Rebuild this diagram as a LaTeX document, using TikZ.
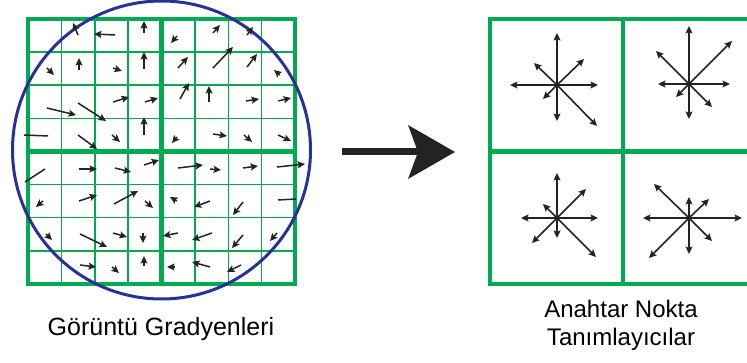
\documentclass[tikz,border=0pt]{standalone}
\usepackage{fontspec}
\setmainfont{Liberation Sans}
\usetikzlibrary{arrows.meta}
\definecolor{gr}{RGB}{0,170,80}
\definecolor{bl}{RGB}{40,50,150}
\definecolor{ak}{RGB}{35,35,35}
\tikzset{
  thickg/.style={gr,line width=4.5pt},
  thing/.style={gr,line width=1.5pt},
  garr/.style={ak,line width=1.5pt,-{Stealth[length=7.5pt,width=7pt,inset=1.5pt]}},
  gline/.style={ak,line width=1.5pt},
  tarr/.style={ak,line width=1.6pt,-{Stealth[length=7.5pt,width=7pt,inset=1.5pt]}},
  lbl/.style={font=\fontsize{25}{30}\selectfont,text=black,align=center},
}
\begin{document}
\begin{tikzpicture}[x=1pt,y=-1pt]
\useasboundingbox (0,0) rectangle (747,363);
\clip (0,0) rectangle (747,363);
\fill[white] (0,0) rectangle (747,363);
% ---------- left grid ----------
\foreach \i in {1,2,3,5,6,7}{
  \draw[thing] ({28+33.375*\i},19) -- ({28+33.375*\i},284);
  \draw[thing] (28,{19+33.125*\i}) -- (295,{19+33.125*\i});
}
\draw[thickg] (28,19) rectangle (295,284);
\draw[thickg] (161.5,19) -- (161.5,284);
\draw[thickg] (28,151.5) -- (295,151.5);
\draw[bl,line width=3pt] (161.5,150) circle[radius=149];
% ---------- gradient arrows ----------
% row 1
\draw[garr] (78,35) -- (73,23);
\draw[garr] (115,35) -- (94,34);
\draw[garr] (144,33) -- (144,21);
\draw[garr] (177,36) -- (171,43);
\draw[garr] (213,33) -- (220,25);
\draw[garr] (247,35) -- (253,27);
% row 2
\draw[garr] (47,68) -- (54,75);
\draw[garr] (79,70) -- (79,58);
\draw[garr] (113,68) -- (122,71);
\draw[garr] (144,69) -- (144,52);
\draw[garr] (178,68) -- (188,57);
\draw[garr] (213,68) -- (233,47);
\draw[garr] (247,67) -- (257,54);
\draw[garr] (280,75) -- (274,70);
% row 3
\draw[garr] (47,108) -- (76,115);
\draw[garr] (78,103) -- (106,121);
\draw[garr] (113,102) -- (129,97);
\draw[garr] (145,102) -- (158,98);
\draw[garr] (180,99) -- (189,83);
\draw[garr] (209,102) -- (209,86);
\draw[garr] (246,101) -- (259,99);
\draw[garr] (278,101) -- (291,98);
% row 4
\draw[gline] (24,135) -- (48,136);
\draw[garr] (78,135) -- (97,149);
\draw[garr] (112,135) -- (120,142);
\draw[garr] (144,135) -- (144,117);
\draw[garr] (177,137) -- (172,143);
\draw[garr] (213,134) -- (227,136);
\draw[garr] (244,135) -- (252,142);
\draw[garr] (278,135) -- (291,141);
% row 5
\draw[gline] (45,169) -- (25,182);
\draw[garr] (79,169) -- (97,169);
\draw[garr] (115,168) -- (131,172);
\draw[garr] (144,165) -- (159,160);
\draw[garr] (178,168) -- (203,165);
\draw[garr] (210,169) -- (221,170);
\draw[garr] (243,168) -- (258,166);
\draw[garr] (277,167) -- (305,164);
% row 6
\draw[garr] (43,201) -- (36,207);
\draw[garr] (79,201) -- (97,195);
\draw[garr] (114,204) -- (138,191);
\draw[garr] (145,201) -- (153,208);
\draw[garr] (177,201) -- (170,197);
\draw[garr] (210,201) -- (194,207);
\draw[garr] (243,202) -- (233,215);
\draw[gline] (278,200) -- (296,199);
% row 7
\draw[garr] (46,234) -- (52,240);
\draw[garr] (80,234) -- (107,247);
\draw[garr] (113,233) -- (127,237);
\draw[garr] (143,233) -- (143,243);
\draw[garr] (178,233) -- (163,236);
\draw[garr] (212,233) -- (192,240);
\draw[garr] (243,235) -- (232,248);
\draw[garr] (277,233) -- (270,241);
% row 8
\draw[garr] (80,265) -- (96,267);
\draw[garr] (112,267) -- (119,273);
\draw[garr] (144,266) -- (144,256);
\draw[garr] (175,267) -- (167,267);
\draw[garr] (210,267) -- (192,262);
\draw[garr] (241,265) -- (227,272);
% ---------- big arrow ----------
\fill[ak] (342,148.5) rectangle (420,155.5);
\fill[ak] (455,152) -- (408,125) -- (418,152) -- (408,179) -- cycle;
% ---------- right panel ----------
\draw[thickg] (490,19) rectangle (756,284);
\draw[thickg] (623,19) -- (623,284);
\draw[thickg] (490,151.5) -- (756,151.5);
% stars
\coordinate (s1) at (557,85);
\coordinate (s2) at (689,84);
\coordinate (s3) at (557,218);
\coordinate (s4) at (689,218);
\foreach \dx/\dy in {0/-52,41/0,0/36,-47/0,27/-26,-23/-22,-14/14,40/41}
  \draw[tarr] (s1) -- ++(\dx,\dy);
\foreach \dx/\dy in {0/-58,41/0,0/35,-31/0,43/-43,-33/-33,-13/13,23/23}
  \draw[tarr] (s2) -- ++(\dx,\dy);
\foreach \dx/\dy in {0/-45,41/0,0/20,-36/0,29/-29,-14/-14,-25/25,39/39}
  \draw[tarr] (s3) -- ++(\dx,\dy);
\foreach \dx/\dy in {0/-21,53/0,0/36,-46/0,20/-19,-35/-34,-40/40,23/23}
  \draw[tarr] (s4) -- ++(\dx,\dy);
% ---------- labels ----------
\node[lbl,anchor=base] (t1) at (161,335) {Görüntü Gradyenleri};
\node[lbl,anchor=base,font=\fontsize{24}{27.5}\selectfont] (t2) at (621,345) {Anahtar Nokta\\Tanımlayıcılar};
\end{tikzpicture}
\end{document}
